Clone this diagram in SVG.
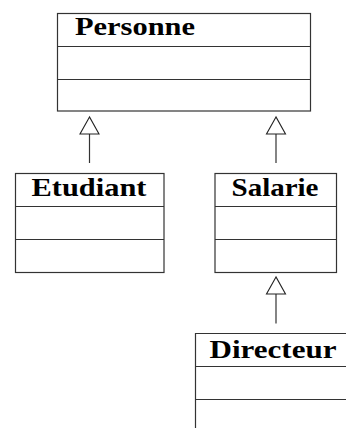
<svg xmlns="http://www.w3.org/2000/svg" width="346" height="428" viewBox="0 0 346 428">
<style>
.box{fill:#fff;stroke:#333;stroke-width:1.2}
.ln{stroke:#333;stroke-width:1.2;fill:none}
.t{font-family:"Liberation Serif","Times New Roman",serif;font-weight:bold;font-size:25px;fill:#000}
.tri{fill:#fff;stroke:#222;stroke-width:1.1}
</style>
<rect width="346" height="428" fill="#fff"/>
<g id="Personne">
<rect class="box" x="57.5" y="13.5" width="253" height="97.5"/>
<line class="ln" x1="57.5" y1="46.5" x2="310.5" y2="46.5"/>
<line class="ln" x1="57.5" y1="79.5" x2="310.5" y2="79.5"/>
<text class="t" x="75" y="35" textLength="120" lengthAdjust="spacingAndGlyphs">Personne</text>
</g>
<g id="Etudiant">
<rect class="box" x="15.5" y="173.5" width="148.5" height="99"/>
<line class="ln" x1="15.5" y1="206.5" x2="164" y2="206.5"/>
<line class="ln" x1="15.5" y1="239.5" x2="164" y2="239.5"/>
<text class="t" x="31.5" y="196" textLength="115" lengthAdjust="spacingAndGlyphs">Etudiant</text>
</g>
<g id="Salarie">
<rect class="box" x="215" y="173.5" width="121.5" height="99"/>
<line class="ln" x1="215" y1="206.5" x2="336.5" y2="206.5"/>
<line class="ln" x1="215" y1="239.5" x2="336.5" y2="239.5"/>
<text class="t" x="231.5" y="196" textLength="87" lengthAdjust="spacingAndGlyphs">Salarie</text>
</g>
<g id="Directeur">
<path class="ln" d="M350 333.5 H195.5 V430"/>
<line class="ln" x1="195.5" y1="366.5" x2="350" y2="366.5"/>
<line class="ln" x1="195.5" y1="399.5" x2="350" y2="399.5"/>
<text class="t" x="209.5" y="357.5" textLength="127" lengthAdjust="spacingAndGlyphs">Directeur</text>
</g>
<g id="connectors">
<line class="ln" x1="89.5" y1="134" x2="89.5" y2="163"/>
<polygon class="tri" points="89.5,117 80,134 99,134"/>
<line class="ln" x1="276" y1="134" x2="276" y2="163"/>
<polygon class="tri" points="276,117 266.5,134 285.5,134"/>
<line class="ln" x1="276" y1="294" x2="276" y2="323.5"/>
<polygon class="tri" points="276,277 266.5,294 285.5,294"/>
</g>
</svg>
